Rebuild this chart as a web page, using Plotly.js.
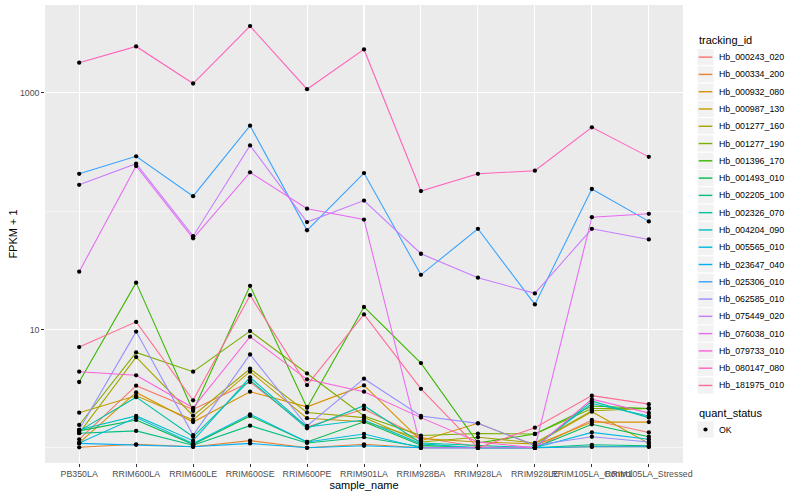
<!DOCTYPE html>
<html><head><meta charset="utf-8">
<script src="https://cdn.plot.ly/plotly-3.0.1.min.js"></script>
<style>html,body{margin:0;padding:0;background:#fff}#chart{width:800px;height:500px}</style>
</head><body><div id="chart"></div>
<script>
// ---- data ----
const samples = ["PB350LA","RRIM600LA","RRIM600LE","RRIM600SE","RRIM600PE","RRIM901LA",
  "RRIM928BA","RRIM928LA","RRIM928LE","RRIM105LA_Control","RRIM105LA_Stressed"];
const trackingIds = ["Hb_000243_020","Hb_000334_200","Hb_000932_080","Hb_000987_130","Hb_001277_160",
  "Hb_001277_190","Hb_001396_170","Hb_001493_010","Hb_002205_100","Hb_002326_070","Hb_004204_090",
  "Hb_005565_010","Hb_023647_040","Hb_025306_010","Hb_062585_010","Hb_075449_020","Hb_076038_010",
  "Hb_079733_010","Hb_080147_080","Hb_181975_010"];
const seriesColors = ["#F8766D","#EA8331","#D89000","#C09B00","#A3A500","#7CAE00","#39B600","#00BB4E",
  "#00BF7D","#00C1A3","#00BFC4","#00BAE0","#00B0F6","#35A2FF","#9590FF","#C77CFF","#E76BF3",
  "#FA62DB","#FF62BC","#FF6C91"];
// FPKM + 1 per sample
const hb_000243_020 = [1.18, 3.35, 2.11, 3.6, 1.5, 2.13, 1.22, 1.02, 1.0, 1.72, 1.35];
const hb_000334_200 = [1.01, 1.07, 1.02, 1.15, 1.0, 1.07, 1.0, 1.0, 1.0, 1.02, 1.02];
const hb_000932_080 = [1.10, 2.94, 1.65, 2.98, 2.22, 3.37, 1.15, 1.61, 1.05, 1.65, 1.65];
const hb_000987_130 = [1.98, 2.75, 1.72, 4.4, 1.78, 1.66, 1.2, 1.12, 1.08, 2.02, 1.09];
const hb_001277_160 = [1.33, 5.85, 1.87, 4.66, 1.99, 1.8, 1.12, 1.23, 1.1, 2.06, 2.15];
const hb_001277_190 = [1.56, 6.4, 4.4, 9.7, 4.25, 1.86, 1.27, 1.32, 1.31, 2.15, 2.15];
const hb_001396_170 = [3.6, 24.9, 2.05, 23.4, 2.18, 15.5, 5.2, 1.1, 1.31, 2.26, 2.15];
const hb_001493_010 = [1.39, 1.72, 1.07, 1.86, 1.12, 1.66, 1.05, 1.0, 1.0, 1.58, 1.24];
const hb_002205_100 = [1.33, 1.39, 1.05, 1.54, 1.1, 1.23, 1.02, 1.0, 1.0, 1.06, 1.04];
const hb_002326_070 = [1.39, 2.68, 1.24, 3.73, 1.46, 2.27, 1.1, 1.05, 1.0, 2.48, 1.8];
const hb_004204_090 = [1.42, 1.86, 1.15, 3.94, 1.5, 1.72, 1.08, 1.0, 1.02, 2.37, 1.86];
const hb_005565_010 = [1.10, 1.80, 1.09, 1.92, 1.12, 1.31, 1.0, 1.0, 1.0, 1.35, 1.18];
const hb_023647_040 = [1.09, 1.06, 1.02, 1.09, 1.0, 1.04, 1.0, 1.0, 1.0, 1.02, 1.02];
const hb_025306_010 = [207, 291, 134, 528, 69, 210, 29, 71, 16.3, 154, 82];
const hb_062585_010 = [1.42, 9.6, 1.28, 6.15, 1.53, 3.84, 1.86, 1.61, 1.05, 1.24, 1.12];
const hb_075449_020 = [167, 252, 61.5, 360, 81, 123, 43.7, 27.4, 20.2, 71, 57.7];
const hb_076038_010 = [30.8, 241, 59, 213, 105, 85, 1.0, 1.0, 1.0, 89, 95];
const hb_079733_010 = [4.4, 4.1, 2.18, 8.7, 3.79, 2.98, 1.8, 1.12, 1.0, 2.58, 1.97];
const hb_080147_080 = [1800, 2470, 1200, 3670, 1074, 2330, 148, 207, 220, 512, 288];
const hb_181975_010 = [7.1, 11.6, 2.52, 19.5, 3.39, 13.4, 3.15, 1.0, 1.48, 2.76, 2.34];
const seriesValues = [hb_000243_020, hb_000334_200, hb_000932_080, hb_000987_130, hb_001277_160,
  hb_001277_190, hb_001396_170, hb_001493_010, hb_002205_100, hb_002326_070, hb_004204_090,
  hb_005565_010, hb_023647_040, hb_025306_010, hb_062585_010, hb_075449_020, hb_076038_010,
  hb_079733_010, hb_080147_080, hb_181975_010];
const yTickVals = [10, 1000];
const yMinorVals = [1, 100];
const statusLabel = "OK";

// ---- geometry of the plot panel (px) ----
const W = 800, H = 500;
const M = {l: 45, r: 117, t: 5, b: 37};
const pw = W - M.l - M.r, ph = H - M.t - M.b;
const px = v => (v - M.l) / pw;
const py = v => (H - M.b - v) / ph;

const FONT = "Liberation Sans, Arial, Helvetica, sans-serif";

const traces = [];
seriesValues.forEach((vals, i) => {
  traces.push({
    type: "scatter", mode: "lines", x: samples, y: vals, name: trackingIds[i],
    line: {color: seriesColors[i], width: 1.07}, showlegend: false, hoverinfo: "skip"
  });
});
const allX = [], allY = [];
seriesValues.forEach(vals => vals.forEach((v, j) => { allX.push(samples[j]); allY.push(v); }));
traces.push({
  type: "scatter", mode: "markers", x: allX, y: allY, name: statusLabel,
  marker: {color: "#000000", size: 4.3}, showlegend: false, hoverinfo: "skip"
});

const logs = allY.map(v => Math.log10(v));
const lo = Math.min(...logs), hi = Math.max(...logs), span = hi - lo;

// ---- manual ggplot-style legend ----
const shapes = [], annotations = [];
annotations.push({xref: "paper", yref: "paper", x: px(697), y: py(40), xanchor: "left", yanchor: "middle",
  text: "tracking_id", showarrow: false, font: {family: FONT, size: 11, color: "#000"}});
const keyTop = 48.5, keyH = 17.28, keyX0 = 697, keyX1 = 714;
trackingIds.forEach((id, i) => {
  const c = keyTop + keyH * i + keyH / 2;
  shapes.push({type: "rect", xref: "paper", yref: "paper", x0: px(keyX0), x1: px(keyX1),
    y0: py(c - keyH / 2), y1: py(c + keyH / 2), fillcolor: "#F2F2F2", line: {color: "#FFFFFF", width: 1}, layer: "above"});
  shapes.push({type: "line", xref: "paper", yref: "paper", x0: px(keyX0 + 1.7), x1: px(keyX1 - 1.7),
    y0: py(c), y1: py(c), line: {color: seriesColors[i], width: 1.4}, layer: "above"});
  annotations.push({xref: "paper", yref: "paper", x: px(717), y: py(c), xanchor: "left", yanchor: "middle",
    text: id, showarrow: false, font: {family: FONT, size: 8.8, color: "#000"}});
});
annotations.push({xref: "paper", yref: "paper", x: px(697), y: py(413), xanchor: "left", yanchor: "middle",
  text: "quant_status", showarrow: false, font: {family: FONT, size: 11, color: "#000"}});
const c2 = 429.5;
shapes.push({type: "rect", xref: "paper", yref: "paper", x0: px(keyX0), x1: px(keyX1),
  y0: py(c2 - keyH / 2), y1: py(c2 + keyH / 2), fillcolor: "#F2F2F2", line: {color: "#FFFFFF", width: 1}, layer: "above"});
shapes.push({type: "circle", xref: "paper", yref: "paper", x0: px(703.4), x1: px(707.6),
  y0: py(c2 + 2.1), y1: py(c2 - 2.1), fillcolor: "#000", line: {width: 0}, layer: "above"});
annotations.push({xref: "paper", yref: "paper", x: px(717), y: py(c2), xanchor: "left", yanchor: "middle",
  text: statusLabel, showarrow: false, font: {family: FONT, size: 8.8, color: "#000"}});

const layout = {
  width: W, height: H, margin: M, paper_bgcolor: "#FFFFFF", plot_bgcolor: "#EBEBEB",
  font: {family: FONT, size: 8.8, color: "#4D4D4D"}, showlegend: false,
  xaxis: {type: "category", range: [-0.6, samples.length - 0.4], tickangle: 0,
    showgrid: true, gridcolor: "#FFFFFF", gridwidth: 1.07, zeroline: false, showline: false,
    ticks: "outside", ticklen: 2.75, tickwidth: 1, tickcolor: "#333333",
    tickfont: {family: FONT, size: 8.8, color: "#4D4D4D"},
    title: {text: "sample_name", font: {family: FONT, size: 11, color: "#000"}, standoff: 2}},
  yaxis: {type: "log", range: [lo - 0.036 * span, hi + 0.05 * span],
    tickmode: "array", tickvals: yTickVals, ticktext: yTickVals.map(String),
    showgrid: true, gridcolor: "#FFFFFF", gridwidth: 1.07, zeroline: false, showline: false,
    ticks: "outside", ticklen: 2.75, tickwidth: 1, tickcolor: "#333333",
    tickfont: {family: FONT, size: 8.8, color: "#4D4D4D"},
    minor: {tickmode: "array", tickvals: yMinorVals, showgrid: true, gridcolor: "#FFFFFF", gridwidth: 0.53, ticks: ""},
    title: {text: "FPKM + 1", font: {family: FONT, size: 11, color: "#000"}, standoff: 0}},
  shapes: shapes, annotations: annotations
};
Plotly.newPlot("chart", traces, layout, {staticPlot: true, displayModeBar: false});
</script></body></html>
